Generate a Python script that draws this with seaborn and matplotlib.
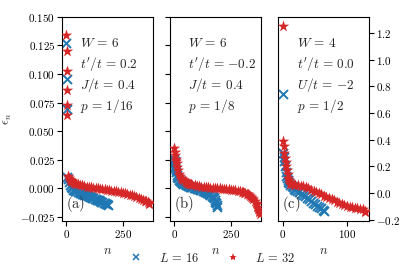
import numpy as np
import pandas as pd
import matplotlib
matplotlib.use("Agg")
import matplotlib.pyplot as plt
import seaborn as sns
from matplotlib.ticker import FuncFormatter
from matplotlib.lines import Line2D

# ---- data ----
# panel (a): W=6, t'/t=0.2, J/t=0.4, p=1/16
a16_n = [0, 1, 2, 3, 6, 10, 15, 20, 25, 30, 35, 40, 45, 50, 55, 60, 65, 70, 75,
         80, 85, 90, 95, 100, 105, 110, 115, 120, 125, 130, 135, 140, 145, 150,
         155, 160, 165, 170, 175, 180, 183]
a16_e = [0.1274, 0.0959, 0.0694, 0.0100, 0.0080, 0.0060, 0.0030, 0.0010, 0.0000,
         -0.0010, -0.0015, -0.0020, -0.0025, -0.0030, -0.0034, -0.0038, -0.0042,
         -0.0045, -0.0049, -0.0053, -0.0057, -0.0060, -0.0064, -0.0068, -0.0072,
         -0.0076, -0.0080, -0.0085, -0.0089, -0.0093, -0.0097, -0.0100, -0.0105,
         -0.0110, -0.0115, -0.0120, -0.0124, -0.0128, -0.0133, -0.0138, -0.0145]
a32_n = [0, 1, 2, 3, 4, 5, 6, 10, 15, 20, 25, 30, 35, 40, 45, 50, 60, 70, 80, 90,
         100, 110, 120, 130, 140, 150, 160, 170, 180, 190, 200, 210, 220, 230,
         240, 250, 260, 270, 280, 290, 300, 310, 320, 330, 340, 350, 355, 360,
         364, 367]
a32_e = [0.1344, 0.1200, 0.1030, 0.0862, 0.0733, 0.0644, 0.0105, 0.0090, 0.0078,
         0.0068, 0.0061, 0.0055, 0.0050, 0.0045, 0.0041, 0.0038, 0.0032, 0.0026,
         0.0021, 0.0017, 0.0013, 0.0009, 0.0006, 0.0003, 0.0001, -0.0002, -0.0005,
         -0.0008, -0.0011, -0.0014, -0.0018, -0.0022, -0.0026, -0.0030, -0.0034,
         -0.0038, -0.0043, -0.0048, -0.0054, -0.0060, -0.0067, -0.0074, -0.0081,
         -0.0089, -0.0097, -0.0106, -0.0111, -0.0118, -0.0126, -0.0135]

# panel (b): W=6, t'/t=-0.2, J/t=0.4, p=1/8
b16_n = [0, 1, 2, 3, 4, 6, 8, 10, 13, 16, 20, 25, 30, 35, 40, 45, 50, 55, 60, 65,
         70, 75, 80, 85, 90, 95, 100, 105, 110, 115, 120, 125, 130, 135, 140,
         145, 150, 155, 160, 165, 170, 174, 178, 182, 185, 188, 190]
b16_e = [0.026, 0.024, 0.022, 0.020, 0.018, 0.016, 0.014, 0.012, 0.010, 0.009,
         0.0075, 0.0064, 0.0055, 0.0047, 0.0040, 0.0035, 0.0030, 0.0026, 0.0023,
         0.0020, 0.0017, 0.0014, 0.0011, 0.0008, 0.0005, 0.0002, -0.0001,
         -0.0004, -0.0008, -0.0011, -0.0015, -0.0019, -0.0023, -0.0027, -0.0032,
         -0.0037, -0.0042, -0.0048, -0.0055, -0.0064, -0.0075, -0.0087, -0.0100,
         -0.0115, -0.0130, -0.0145, -0.0160]
b32_n = [0, 2, 4, 6, 8, 10, 13, 16, 20, 25, 30, 35, 40, 45, 50, 55, 60, 65, 70,
         75, 80, 90, 100, 110, 120, 130, 140, 150, 160, 170, 180, 190, 200, 210,
         220, 230, 240, 250, 260, 270, 280, 290, 300, 305, 310, 315, 320, 325,
         330, 335, 340, 345, 350, 355, 360, 364, 368, 371, 374, 376, 378]
b32_e = [0.035, 0.032, 0.029, 0.026, 0.024, 0.022, 0.019, 0.016, 0.013, 0.011,
         0.009, 0.008, 0.007, 0.0062, 0.0055, 0.0050, 0.0045, 0.0041, 0.0038,
         0.0035, 0.0032, 0.0027, 0.0023, 0.0020, 0.0017, 0.0014, 0.0012, 0.0010,
         0.0008, 0.0006, 0.0004, 0.0002, 0.0000, -0.0002, -0.0004, -0.0006,
         -0.0008, -0.0010, -0.0013, -0.0016, -0.0020, -0.0025, -0.0030, -0.0033,
         -0.0037, -0.0041, -0.0046, -0.0052, -0.0058, -0.0066, -0.0074, -0.0084,
         -0.0095, -0.0108, -0.0125, -0.0140, -0.0160, -0.0178, -0.0200, -0.0210,
         -0.0220]

# panel (c): W=4, t'/t=0.0, U/t=-2, p=1/2
c16_n = [0, 1, 2, 3, 4, 5, 6, 7, 8, 9, 10, 12, 14, 16, 18, 20, 23, 26, 29, 32,
         35, 38, 41, 44, 47, 50, 53, 56, 59, 62, 64]
c16_e = [0.745, 0.30, 0.27, 0.24, 0.20, 0.16, 0.13, 0.11, 0.095, 0.085, 0.075,
         0.062, 0.052, 0.042, 0.033, 0.025, 0.015, 0.005, -0.005, -0.015, -0.025,
         -0.036, -0.048, -0.060, -0.072, -0.083, -0.094, -0.104, -0.114, -0.124,
         -0.132]
c32_n = [0, 1, 2, 3, 4, 5, 6, 7, 8, 9, 10, 11, 12, 14, 17, 20, 24, 28, 32, 36,
         40, 44, 48, 52, 56, 60, 64, 68, 72, 76, 80, 84, 88, 92, 96, 100, 104,
         108, 112, 116, 120, 124, 127, 128]
c32_e = [1.25, 0.39, 0.35, 0.30, 0.26, 0.23, 0.20, 0.17, 0.14, 0.115, 0.095,
         0.080, 0.070, 0.065, 0.062, 0.060, 0.058, 0.055, 0.050, 0.043, 0.035,
         0.026, 0.017, 0.008, -0.001, -0.010, -0.019, -0.028, -0.037, -0.046,
         -0.055, -0.064, -0.073, -0.082, -0.090, -0.097, -0.103, -0.107, -0.110,
         -0.113, -0.117, -0.123, -0.135, -0.143]

panel_labels = ["(a)", "(b)", "(c)"]
panel_texts = [
    [r"$W\,=\,6$", r"$t'/t\,=\,0.2$", r"$J/t\,=\,0.4$", r"$p\,=\,1/16$"],
    [r"$W\,=\,6$", r"$t'/t\,=\,{-0.2}$", r"$J/t\,=\,0.4$", r"$p\,=\,1/8$"],
    [r"$W\,=\,4$", r"$t'/t\,=\,0.0$", r"$U/t\,=\,{-2}$", r"$p\,=\,1/2$"],
]
ab_yticks = [-0.025, 0.0, 0.025, 0.05, 0.075, 0.1, 0.125, 0.15]
c_yticks = [-0.2, 0.0, 0.2, 0.4, 0.6, 0.8, 1.0, 1.2]

blue = "#1f77b4"
red = "#d62728"

sns.set_style("ticks")
plt.rcParams["mathtext.fontset"] = "cm"
plt.rcParams["font.family"] = ["DejaVu Serif"]
plt.rcParams["xtick.labelsize"] = 8
plt.rcParams["ytick.labelsize"] = 8
plt.rcParams["axes.edgecolor"] = "black"
plt.rcParams["xtick.color"] = "black"
plt.rcParams["ytick.color"] = "black"


def make_df(n, e):
    return pd.DataFrame({"n": n, "eps": e})


series = [
    (make_df(a16_n, a16_e), make_df(a32_n, a32_e)),
    (make_df(b16_n, b16_e), make_df(b32_n, b32_e)),
    (make_df(c16_n, c16_e), make_df(c32_n, c32_e)),
]

fig, axes = plt.subplots(1, 3, figsize=(4.15, 2.77), dpi=100)
fig.subplots_adjust(left=0.150, right=0.890, bottom=0.202, top=0.939, wspace=0.187)

fmt3 = FuncFormatter(lambda v, p: "$%.3f$" % v)
fmt1 = FuncFormatter(lambda v, p: "$%.1f$" % v)
fmt0 = FuncFormatter(lambda v, p: "$%d$" % v)

for i, ax in enumerate(axes):
    d16, d32 = series[i]
    sns.scatterplot(data=d16, x="n", y="eps", ax=ax, marker="x", color=blue,
                    s=42, linewidth=1.4, zorder=2)
    sns.scatterplot(data=d32, x="n", y="eps", ax=ax, marker="*", color=red,
                    s=75, linewidth=0, zorder=3)
    for s in ax.spines.values():
        s.set_visible(True)
        s.set_linewidth(0.8)
    ax.set_xlabel(r"$n$", fontsize=9, labelpad=3)
    ax.set_ylabel("")
    ax.xaxis.set_major_formatter(fmt0)
    for k, t in enumerate(panel_texts[i]):
        ax.text(0.2, 0.872 - 0.103 * k, t, transform=ax.transAxes, fontsize=9.5,
                va="center", ha="left")
    ax.text(0.045, 0.035, r"$\mathrm{%s}$" % panel_labels[i], transform=ax.transAxes,
            fontsize=10.5, va="bottom", ha="left")
    ax.tick_params(length=3.5, width=0.8, direction="out", pad=1.5)

for ax in axes[:2]:
    ax.set_xlim(-18, 385)
    ax.set_xticks([0, 250])
    ax.set_ylim(-0.0285, 0.15)
    ax.set_yticks(ab_yticks)
    ax.yaxis.set_major_formatter(fmt3)
axes[1].tick_params(axis="y", labelleft=False)
axes[0].set_ylabel(r"$\epsilon_n$", fontsize=9)

axc = axes[2]
axc.set_xlim(-6.5, 134.5)
axc.set_xticks([0, 100])
axc.set_ylim(-0.21, 1.32)
axc.set_yticks(c_yticks)
axc.yaxis.set_major_formatter(fmt1)
axc.yaxis.tick_right()

handles = [
    Line2D([], [], linestyle="none", marker="x", color=blue, markersize=5,
           markeredgewidth=1.1),
    Line2D([], [], linestyle="none", marker="*", color=red, markersize=6,
           markeredgewidth=0),
]
fig.legend(handles, [r"$L\,=\,16$", r"$L\,=\,32$"], loc="center", ncol=2,
           frameon=False, bbox_to_anchor=(0.505, 0.068), fontsize=9,
           handletextpad=0.8, columnspacing=1.7)

fig.savefig("out.png", dpi=100)
